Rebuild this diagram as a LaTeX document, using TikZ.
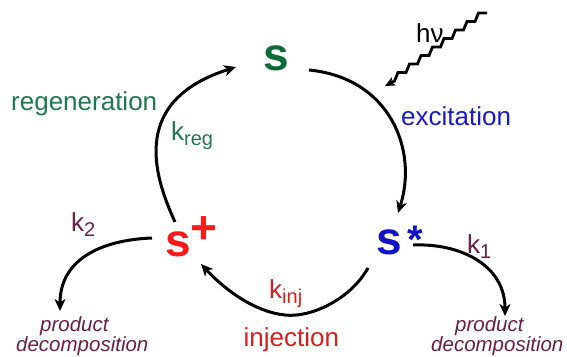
\documentclass[tikz,border=0pt]{standalone}
\usepackage{fontspec}
\setmainfont{Liberation Sans}
\usetikzlibrary{arrows.meta,calc}
\definecolor{sgreen}{HTML}{0E6B3A}
\definecolor{tgreen}{HTML}{1E7850}
\definecolor{sblue}{HTML}{1212C8}
\definecolor{tblue}{HTML}{1A1ACD}
\definecolor{sred}{HTML}{FF1A1A}
\definecolor{tred}{HTML}{DD1C1C}
\definecolor{maroonc}{HTML}{6E1E46}
\newcommand{\rk}[1]{k\raisebox{-5pt}{\fontsize{20}{20}\selectfont #1}}
\tikzset{
  lbl/.style={inner sep=0pt, anchor=base west, font=\fontsize{26}{26}\selectfont},
  spec/.style={inner sep=0pt, anchor=base, font=\fontsize{46}{46}\selectfont\bfseries},
  supsym/.style={inner sep=0pt, anchor=base, font=\fontsize{#1}{#1}\selectfont\bfseries},
  prod/.style={inner sep=0pt, anchor=base west, font=\fontsize{20.5}{20.5}\selectfont\itshape, text=maroonc},
  conn/.style={line width=3pt, -{Stealth[length=12pt,width=11pt,inset=3.5pt]}},
  wavy/.style={line width=2.8pt, -{Stealth[length=10pt,width=9pt,inset=2.5pt]}},
}
\begin{document}
\begin{tikzpicture}[x=1pt,y=-1pt]
\useasboundingbox (0,0) rectangle (567,356);
% species
\node[spec,text=sgreen] (S) at (276.5,70) {s};
\node[spec,text=sblue] (Sx) at (389.5,254) {s};
\node[supsym=40,text=sblue] (star) at (415,253) {*};
\node[spec,text=sred] (Sp) at (178,256) {s};
\node[supsym=46,text=sred] (plus) at (204,243) {+};
% labels
\node[lbl,text=tgreen] (regen) at (11,110) {regeneration};
\node[lbl,text=tgreen] (kreg) at (171,140) {\rk{reg}};
\node[lbl,text=tblue] (excit) at (401,125) {excitation};
\node[lbl] (hnu) at (416,42) {hν};
\node[lbl,text=tred] (inj) at (243.5,346) {injection};
\node[lbl,text=tred] (kinj) at (269,298) {\rk{inj}};
\node[lbl,text=maroonc] (k1) at (467,253) {\rk{1}};
\node[lbl,text=maroonc] (k2) at (71,231) {\rk{2}};
\node[prod] (p1a) at (40,331) {product};
\node[prod] (p1b) at (16,351) {decomposition};
\node[prod] (p2a) at (455,331) {product};
\node[prod] (p2b) at (431,351) {decomposition};
% connector end points
\coordinate (exA) at (309,70);
\coordinate (exB) at (398,213);
\coordinate (rgA) at (175,222);
\coordinate (rgB) at (236,67);
\coordinate (ijA) at (368,268);
\coordinate (ijM) at (285,315);
\coordinate (ijB) at (201,264);
\coordinate (d1A) at (413,245);
\coordinate (d1B) at (505,316);
\coordinate (d2A) at (152,238);
\coordinate (d2B) at (60,311);
\coordinate (hvA) at (487,13);
\coordinate (hvB) at (385,86);
% cycle arrows
\draw[conn] (exA) .. controls (390,78) and (418,150) .. (exB);
\draw[conn] (rgA) .. controls (152,172) and (132,100) .. (rgB);
\draw[conn] (ijA) .. controls (350,300) and (310,318) .. (ijM)
                  .. controls (255,312) and (225,290) .. (ijB);
\draw[conn] (d1A) .. controls (460,243) and (505,265) .. (d1B);
\draw[conn] (d2A) .. controls (100,240) and (60,260) .. (d2B);
% photon
\draw[wavy] (hvA) -- (478.5,13) -- (475,21.5) -- (467,21.5) -- (463.5,30)
  -- (455.5,30) -- (452,38.5) -- (444,38.5) -- (440.5,47)
  -- (432.5,47) -- (429,55.5) -- (421,55.5) -- (417.5,64)
  -- (409.5,64) -- (406,72.5) -- (398,72.5) -- (394.5,81) -- (hvB);
\end{tikzpicture}
\end{document}
